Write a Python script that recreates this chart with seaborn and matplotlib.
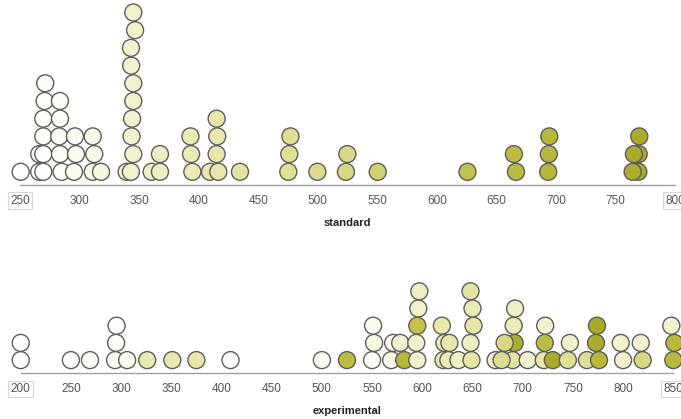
import numpy as np
import pandas as pd
import seaborn as sns
import matplotlib.pyplot as plt
from matplotlib.colors import LinearSegmentedColormap

# standard scores, one per case (order = order of stacking inside a bin)
standard = [250.4,
            266.0, 266.0,
            269.4, 269.4, 269.4, 269.4, 270.5, 271.0,
            284.8, 283.4, 282.8, 283.4, 283.4,
            295.2, 296.9, 296.0,
            310.9, 312.2, 310.9,
            317.9,
            339.4,
            343.0, 345.0, 343.5, 344.0, 345.0, 345.0, 343.2, 343.0, 346.5, 345.0,
            360.4,
            367.4, 367.4,
            394.6, 393.5, 393.0,
            409.4,
            416.4, 415.0, 415.5, 415.0,
            434.6,
            475.2, 476.0, 477.0,
            499.6,
            523.6, 524.8,
            550.3,
            625.7,
            666.4, 664.7,
            693.5, 694.0, 694.4,
            769.2, 769.5, 770.0,
            764.4, 765.5]

# experimental scores
experimental = [200, 200, 250, 269, 294, 295, 295.5, 306, 326, 351, 375, 409,
                500, 525, 550, 552, 551, 569, 571, 582, 578,
                595, 594, 595, 596, 597,
                621, 622, 619.5, 626, 627, 636,
                649, 648, 651, 650, 648,
                673, 690, 692, 691, 692.4, 679, 682, 705,
                721, 722, 722.4, 730, 745, 747, 764,
                776, 773, 774, 800, 797.6, 819.5, 817.6, 850, 851, 848]

# standard score of the same case, used for the colour of each experimental dot
experimental_shade = [260, 265, 270, 280, 285, 283, 266, 300, 400, 410, 415, 270,
                      290, 665, 270, 318, 296, 310, 270, 695, 340,
                      345, 343, 626, 347, 365,
                      415, 395, 409, 390, 416, 360,
                      425, 367, 415, 394, 434,
                      345, 435, 760, 386, 361, 500, 524, 345,
                      420, 666, 343, 770, 480, 345, 476,
                      694, 764, 769, 340, 342, 525, 345, 692, 690, 339]

std_ticks = list(range(250, 801, 50))
exp_ticks = list(range(200, 851, 50))


def stack_levels(values, width=5.0):
    # cases falling in the same small bin are piled up on each other
    counts = {}
    levels = []
    for v in values:
        key = int(np.round(v / width))
        levels.append(counts.get(key, 0))
        counts[key] = counts.get(key, 0) + 1
    return levels


sns.set_style("white")
plt.rcParams['font.family'] = ['Liberation Sans Narrow', 'Liberation Sans', 'DejaVu Sans']

cmap = LinearSegmentedColormap.from_list(
    "olive",
    [(0.0, "#ffffff"), (0.09, "#fbfbf0"), (0.18, "#f1f1cc"), (0.33, "#e6e6a6"),
     (0.5, "#dada8a"), (0.71, "#c4c44c"), (0.84, "#b8b83a"), (1.0, "#a9a92a")])

df_std = pd.DataFrame({"value": standard, "shade": standard})
df_std["level"] = stack_levels(standard)
df_exp = pd.DataFrame({"value": experimental, "shade": experimental_shade})
df_exp["level"] = stack_levels(experimental)

W, H = 681, 419
fig = plt.figure(figsize=(W / 100, H / 100), dpi=100)
ax1 = fig.add_axes([20.2 / W, 1 - 185 / H, (675 - 20.2) / W, 185 / H])
ax2 = fig.add_axes([20.7 / W, 1 - 373.3 / H, (673.3 - 20.7) / W, (373.3 - 278) / H])

panels = [(ax1, df_std, std_ticks, "standard", 17.7),
          (ax2, df_exp, exp_ticks, "experimental", 17.2)]

for ax, d, ticks, name, pitch in panels:
    sns.scatterplot(data=d, x="value", y="level", hue="shade", palette=cmap,
                    hue_norm=(250, 775), s=150, edgecolor="#5e5e5e", linewidth=1.0,
                    legend=False, ax=ax, clip_on=False, zorder=3)
    ax.set_xlim(ticks[0], ticks[-1])
    # axes height in pixels -> levels
    hpx = ax.get_position().height * H
    ax.set_ylim(-13.2 / pitch, (hpx - 13.2) / pitch)
    ax.set_xticks(ticks)
    ax.set_yticks([])
    ax.set_ylabel("")
    for s in ["left", "top", "right"]:
        ax.spines[s].set_visible(False)
    ax.spines["bottom"].set_color("#a0a0a0")
    ax.spines["bottom"].set_linewidth(1.0)
    ax.tick_params(axis="x", direction="out", length=4, width=0.8, color="#888888",
                   labelsize=8.5, labelcolor="#555555", pad=3)
    ax.set_xlabel(name, fontsize=8, fontweight="bold", color="#222222", labelpad=8)
    labels = ax.get_xticklabels()
    for lab in (labels[0], labels[-1]):
        lab.set_bbox(dict(facecolor="none", edgecolor="#d8d8d8", linewidth=0.8,
                          boxstyle="square,pad=0.2"))

fig.savefig("out.png", dpi=100)
